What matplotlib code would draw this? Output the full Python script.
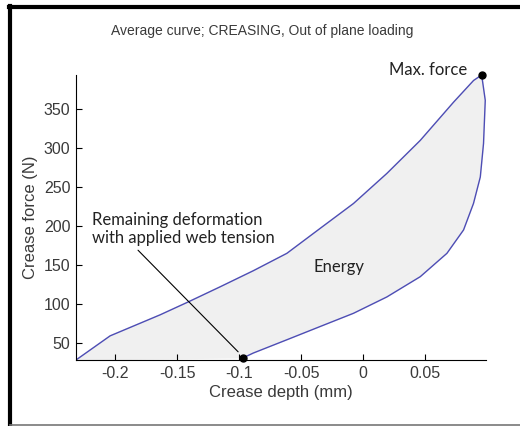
import numpy as np
import matplotlib.pyplot as plt
from matplotlib.lines import Line2D

# loading curve (crease depth mm, force N)
load_depth = [-0.2315, -0.204, -0.1637, -0.141, -0.1153, -0.0885, -0.0615,
              -0.0347, -0.0078, 0.0191, 0.046, 0.0728, 0.089, 0.0955]
load_force = [28, 59, 86, 102.6, 122, 142.7, 165, 197, 229, 267.6, 310, 359,
              387, 394]

# unloading curve
unload_depth = [0.0955, 0.0984, 0.097, 0.0944, 0.0889, 0.0809, 0.0675, 0.046,
                0.0191, -0.0078, -0.0347, -0.0615, -0.0885, -0.0965]
unload_force = [394, 361.5, 306, 263, 229, 195, 165, 135, 109, 88, 71, 54,
                37, 31]

max_pt = (0.0955, 394)
min_pt = (-0.0965, 31)

x_ticks = [-0.2, -0.15, -0.1, -0.05, 0, 0.05]
x_ticklabels = ['-0.2', '-0.15', '-0.1', '-0.05', '0', '0.05']
y_ticks = [50, 100, 150, 200, 250, 300, 350]

W, H = 520, 426
fig = plt.figure(figsize=(W / 100, H / 100), dpi=100)
ax = fig.add_axes([76 / W, 1 - 360 / H, 410 / W, 285 / H])

line_col = '#4d4db5'
txt_col = '#3a3a3a'

poly_x = load_depth + unload_depth[1:] + [load_depth[0]]
poly_y = load_force + unload_force[1:] + [load_force[0]]
ax.fill(poly_x, poly_y, color='#f0f0f0', zorder=1)
ax.plot(load_depth, load_force, color=line_col, lw=1, zorder=2)
ax.plot(unload_depth, unload_force, color=line_col, lw=1, zorder=2)
ax.plot(*max_pt, 'o', color='black', ms=5, zorder=3, clip_on=False)
ax.plot(*min_pt, 'o', color='black', ms=5, zorder=3, clip_on=False)

ax.set_xlim(-0.2315, 0.099)
ax.set_ylim(28, 394)
ax.set_xticks(x_ticks)
ax.set_xticklabels(x_ticklabels)
ax.set_yticks(y_ticks)
for s in ['top', 'right']:
    ax.spines[s].set_visible(False)
ax.tick_params(direction='in', length=4, labelsize=11.5, labelcolor=txt_col,
               pad=4, labelfontfamily='Liberation Sans')

ax.set_xlabel('Crease depth (mm)', fontsize=12, color=txt_col,
              family='Liberation Sans', labelpad=3)
ax.set_ylabel('Crease force (N)', fontsize=12, color=txt_col,
              family='Liberation Sans', labelpad=4)
fig.text(262 / W, 1 - 31 / H, 'Average curve; CREASING, Out of plane loading',
         ha='center', va='center', fontsize=10, color=txt_col,
         family='Liberation Sans')

ann_font = 'Lato'
ax.text(0.0839, 400, 'Max. force', ha='right', va='center', fontsize=12,
        family=ann_font, color='#222222', clip_on=False)
ax.text(-0.0403, 147, 'Energy', ha='left', va='center', fontsize=12,
        family=ann_font, color='#222222')
ax.text(-0.2185, 196, 'Remaining deformation\nwith applied web tension',
        ha='left', va='center', fontsize=12, family=ann_font,
        color='#222222', linespacing=1.15)
ax.annotate('', xy=(-0.1008, 38.5), xytext=(-0.1815, 169),
            arrowprops=dict(arrowstyle='-', color='black', lw=0.8,
                            shrinkA=0, shrinkB=0))

# framed border
fig.add_artist(Line2D([10 / W, 10 / W], [0, 1 - 6 / H], color='black', lw=3,
                      transform=fig.transFigure))
fig.add_artist(Line2D([8.5 / W, 1], [1 - 7 / H, 1 - 7 / H], color='black',
                      lw=3, transform=fig.transFigure))
fig.add_artist(Line2D([10 / W, 1], [1 / H, 1 / H], color='#777777', lw=1.2,
                      transform=fig.transFigure))

fig.savefig('out.png', dpi=100)
